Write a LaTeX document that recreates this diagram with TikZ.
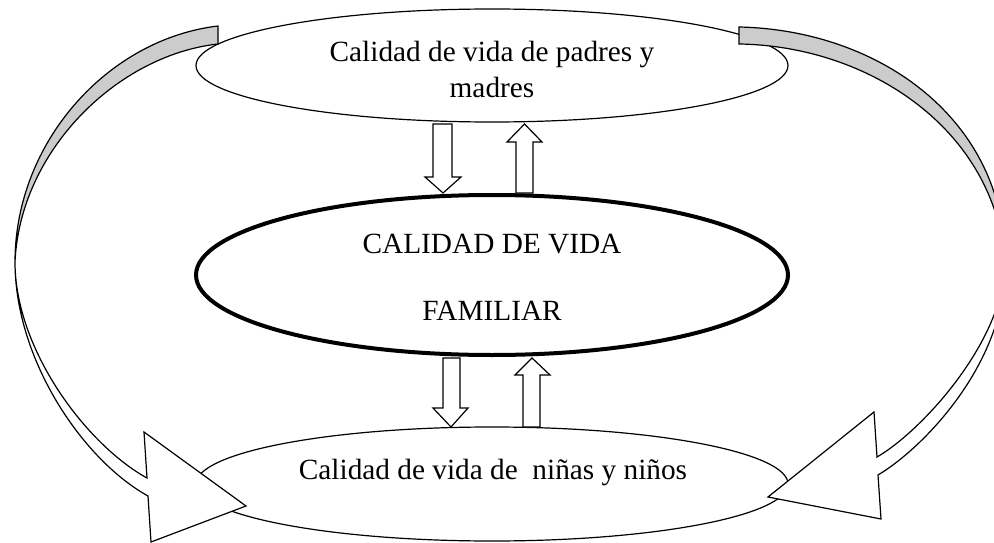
\documentclass[tikz,border=0pt]{standalone}
\usepackage{fontspec}
\setmainfont{Liberation Serif}
\usetikzlibrary{shapes.geometric}
\definecolor{bandgray}{HTML}{CCCCCC}
\begin{document}
\begin{tikzpicture}[x=1pt,y=-1pt,
  ell/.style={ellipse, draw, line width=1.2pt, fill=white, minimum width=592pt, inner sep=0pt},
  txt/.style={font=\fontsize{29.3}{35}\selectfont, inner sep=0pt, anchor=base},
  blockarrow/.style={draw, line width=1.2pt, fill=white, line join=miter},
  bigarrow/.style={draw, line width=1.2pt, line join=miter},
]
\useasboundingbox (0,0) rectangle (994,543);
\clip (0,0) rectangle (994,543);

% ellipses
\node[ell, minimum height=113pt] (padres) at (492,65.5) {};
\node[ell, line width=4pt, minimum height=160pt] (familiar) at (492,275) {};
\node[ell, minimum height=114pt] (ninos) at (492,484) {};

% texts
\node[txt] (t1) at (492,62) {Calidad de vida de padres y};
\node[txt] (t2) at (492,98) {madres};
\node[txt] (t3) at (492,253) {CALIDAD DE VIDA};
\node[txt] (t4) at (492,320) {FAMILIAR};
\node[txt] (t5) at (493,479) {Calidad de vida de\ \ niñas y niños};

% small block arrows between ellipses
\draw[blockarrow] (433,124) -- (452,124) -- (452,177) -- (461,177) -- (443,193) -- (425,177) -- (433,177) -- cycle;
\draw[blockarrow] (516,193) -- (516,142) -- (507,142) -- (524.5,124) -- (542,142) -- (533,142) -- (533,193) -- cycle;
\draw[blockarrow] (443,358) -- (460,358) -- (460,408) -- (468,408) -- (451,427) -- (433,408) -- (443,408) -- cycle;
\draw[blockarrow] (523,427) -- (523,375) -- (515,375) -- (532,358) -- (550,375) -- (540,375) -- (540,427) -- cycle;

% left big curved arrow
\draw[bigarrow, fill=bandgray] (218,26) .. controls (108,39) and (15,142) .. (15,262)
   .. controls (20,150) and (118,55) .. (218,44) -- cycle;
\draw[bigarrow, fill=white] (15,262) .. controls (15,350) and (87,445) .. (147,478)
   -- (144,432) -- (246,506) -- (151,542) -- (148,496)
   .. controls (83,460) and (15,360) .. (15,262) -- cycle;

% right big curved arrow
\draw[bigarrow, fill=bandgray] (739,27) .. controls (880,30) and (1005,120) .. (1005,262)
   .. controls (995,130) and (870,46) .. (739,44) -- cycle;
\draw[bigarrow, fill=white] (1005,262) .. controls (1005,340) and (922,431) .. (877,457)
   -- (874,412) -- (768,497) -- (881,519) -- (878,475)
   .. controls (925,447) and (1008,360) .. (1005,262) -- cycle;
\end{tikzpicture}
\end{document}
